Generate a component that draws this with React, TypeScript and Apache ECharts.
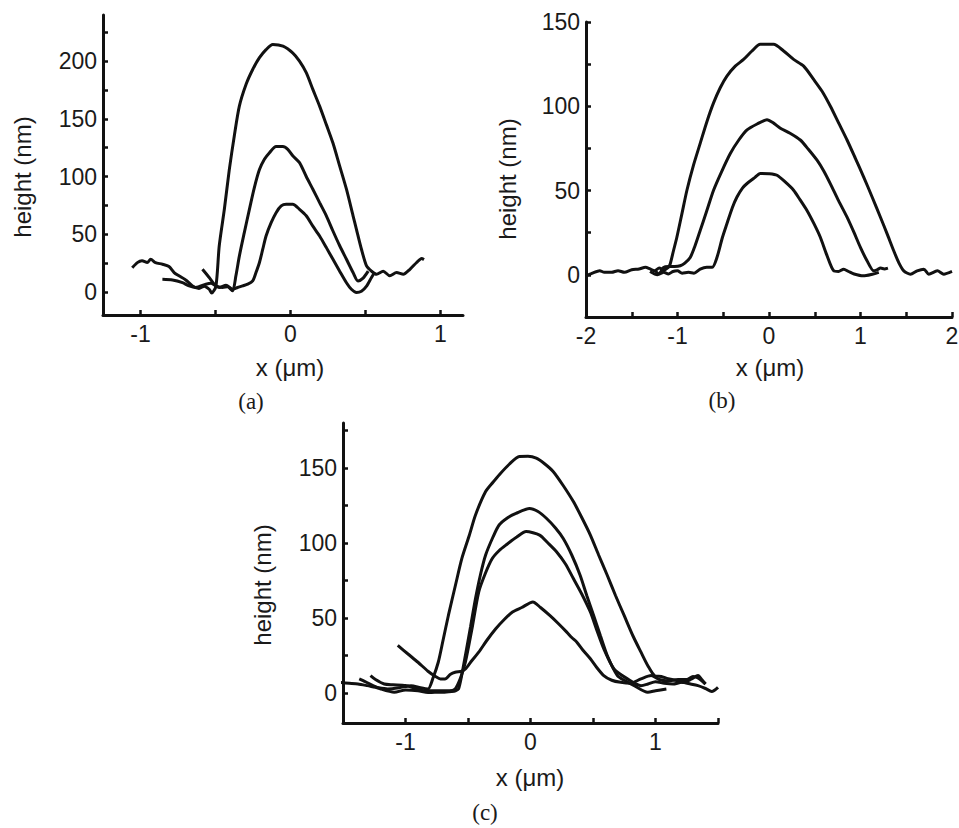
import React, { useEffect, useRef } from "react";
import * as echarts from "echarts";

// ---------- Panel (a) ----------
const a1X = [-1.055, -1.021, -0.99, -0.955, -0.932, -0.9, -0.854, -0.81, -0.776, -0.744, -0.698, -0.653, -0.61, -0.575, -0.542, -0.525, -0.497, -0.475, -0.441, -0.408, -0.375, -0.341, -0.296, -0.252, -0.207, -0.163, -0.118, -0.05, 0.016, 0.06, 0.105, 0.149, 0.194, 0.239, 0.283, 0.328, 0.373, 0.417, 0.44, 0.473, 0.507, 0.54, 0.573, 0.618, 0.662, 0.707, 0.752, 0.796, 0.841, 0.874, 0.89];
const a1Y = [21, 25.4, 27, 25.4, 28.3, 25.4, 24, 22, 16.8, 14, 10.4, 5.2, 3, 5, 2.3, -1, 5, 40, 71.6, 106, 135, 161, 180, 192.8, 203, 210, 214.5, 213, 207, 200, 190, 175.5, 161, 145, 129, 109, 89, 66, 54, 37, 22.5, 18, 15.3, 18, 14, 16.8, 15.3, 19.6, 25.5, 29, 28];
const a2X = [-0.854, -0.787, -0.72, -0.676, -0.632, -0.564, -0.53, -0.497, -0.453, -0.42, -0.386, -0.364, -0.341, -0.308, -0.274, -0.241, -0.207, -0.174, -0.14, -0.096, -0.051, -0.018, 0.015, 0.06, 0.105, 0.149, 0.194, 0.239, 0.283, 0.328, 0.373, 0.417, 0.45, 0.484, 0.518];
const a2Y = [11, 10.4, 8, 5.2, 3.8, 6.7, 7.5, 5.2, 3.8, 4.5, 1, 14, 31, 51.4, 71.6, 90.4, 106, 115, 120.7, 126, 126, 123.5, 118, 112, 100, 89, 77.4, 66, 52.8, 40, 28.3, 16.8, 9.5, 12, 18];
const a3X = [-0.587, -0.542, -0.508, -0.475, -0.43, -0.386, -0.353, -0.319, -0.285, -0.252, -0.23, -0.207, -0.185, -0.163, -0.129, -0.096, -0.062, -0.029, 0.015, 0.06, 0.105, 0.149, 0.194, 0.239, 0.283, 0.328, 0.373, 0.406, 0.44, 0.473, 0.507, 0.54, 0.562];
const a3Y = [19.6, 12.5, 6.7, 3.8, 5.8, 2.3, 3.8, 5.2, 6.7, 9.5, 16.8, 25.5, 37, 48.5, 60, 68.7, 74.5, 76, 76, 71.6, 66, 57, 48.5, 38.4, 28.3, 18, 8, 2.3, -0.5, 0.5, 5, 12.5, 17];

// ---------- Panel (b) ----------
const b1X = [-2, -1.93, -1.85, -1.8, -1.72, -1.65, -1.58, -1.5, -1.42, -1.35, -1.3, -1.25, -1.2, -1.15, -1.1, -1.08, -1.044, -1.007, -0.952, -0.897, -0.825, -0.752, -0.678, -0.606, -0.533, -0.46, -0.369, -0.278, -0.186, -0.095, 0.05, 0.16, 0.269, 0.379, 0.488, 0.58, 0.671, 0.762, 0.853, 0.944, 1.035, 1.127, 1.218, 1.291, 1.363, 1.418, 1.473, 1.546, 1.619, 1.692, 1.746, 1.84, 1.91, 2.0];
const b1Y = [-0.5, 1, 2.5, 1.5, 1.5, 2.5, 1.5, 3, 3.5, 4.5, 3.5, 2.5, 4, 3, 4.5, 6.4, 14.3, 22.3, 36.2, 50.2, 65.1, 78, 91, 102, 111, 117.9, 123.8, 127.8, 132.8, 136.8, 136.8, 132.8, 127.8, 123.8, 115.9, 108.9, 100, 90, 80, 69.1, 58, 46.2, 34.2, 24.3, 14.3, 7.3, 2.4, 0.4, 2.4, 3.4, 0.4, 2.4, 0.4, 2];
const b2X = [-1.3, -1.22, -1.18, -1.153, -1.1, -1.03, -0.97, -0.92, -0.861, -0.81, -0.752, -0.68, -0.606, -0.52, -0.423, -0.33, -0.24, -0.13, -0.022, 0.05, 0.124, 0.23, 0.342, 0.43, 0.525, 0.6, 0.671, 0.76, 0.853, 0.93, 0.999, 1.07, 1.144, 1.18, 1.22, 1.26, 1.3];
const b2Y = [2, 0, 2, 4.4, 5, 5, 5.4, 7, 10.3, 17, 26.3, 38, 50.2, 61, 72, 80, 86, 89.5, 92, 90, 87, 84, 80, 74.5, 68, 61.5, 54, 44, 34.2, 25, 16.3, 8.5, 2.4, 3, 4, 3.5, 4];
const b3X = [-1.25, -1.2, -1.15, -1.1, -1.05, -1.0, -0.95, -0.88, -0.82, -0.752, -0.68, -0.62, -0.569, -0.51, -0.46, -0.4, -0.35, -0.29, -0.24, -0.16, -0.095, 0, 0.087, 0.18, 0.269, 0.34, 0.415, 0.49, 0.561, 0.63, 0.707, 0.76, 0.816, 0.87, 0.93, 1.03, 1.13, 1.2];
const b3Y = [3, 0.5, 1.5, 0.5, 2, 2.4, 1, 1.5, 1, 3.4, 4.5, 4.5, 10.3, 22, 30.3, 40, 46.2, 51.5, 54.2, 57.5, 60.2, 60, 59.1, 55, 50.2, 44.5, 38.2, 30.5, 22.3, 12, 2.4, 2, 3.4, 2, 0.5, -0.6, 0.4, 1.5];

// ---------- Panel (c) ----------
const c1X = [-1.52, -1.45, -1.38, -1.306, -1.22, -1.144, -1.05, -0.955, -0.88, -0.82, -0.78, -0.738, -0.7, -0.657, -0.6, -0.549, -0.49, -0.44, -0.359, -0.3, -0.251, -0.17, -0.089, -0.02, 0.046, 0.11, 0.181, 0.26, 0.343, 0.41, 0.479, 0.545, 0.614, 0.68, 0.749, 0.82, 0.884, 0.94, 0.992, 1.046, 1.1, 1.16, 1.22, 1.29, 1.34, 1.37, 1.4];
const c1Y = [7, 6.5, 6, 4.9, 3.5, 2.7, 3.5, 4.9, 3.5, 2.7, 10, 20.5, 35, 51.7, 72, 89.7, 105, 118.7, 134.3, 140.5, 145.4, 152.5, 157.7, 157.8, 156.6, 153, 147.7, 138.5, 127.6, 117, 105.3, 92, 78.5, 65, 51.7, 38, 27.2, 18, 11.6, 11, 9.5, 8.5, 7, 9.4, 11.6, 9, 6];
const c2X = [-1.37, -1.32, -1.26, -1.198, -1.09, -1.0, -0.9, -0.82, -0.765, -0.7, -0.63, -0.6, -0.576, -0.55, -0.521, -0.48, -0.44, -0.4, -0.359, -0.3, -0.251, -0.18, -0.116, -0.008, 0.06, 0.127, 0.2, 0.262, 0.33, 0.397, 0.45, 0.505, 0.56, 0.614, 0.695, 0.76, 0.83, 0.938, 1.0, 1.087];
const c2Y = [9.4, 7.5, 5, 2.7, 0.5, 2, 1.5, 0.3, 0.5, 0.5, 1, 1.5, 2.7, 12, 25, 44, 63, 79, 92, 104, 112, 117, 119.8, 123, 121, 116.5, 110, 103, 92, 78.5, 65, 51.7, 38, 25, 11.6, 8, 4.9, 0.5, 1.5, 2.7];
const c3X = [-1.28, -1.24, -1.17, -1.1, -1.0, -0.92, -0.846, -0.75, -0.65, -0.603, -0.56, -0.521, -0.47, -0.414, -0.36, -0.306, -0.25, -0.197, -0.11, -0.035, 0.073, 0.14, 0.208, 0.28, 0.343, 0.41, 0.479, 0.53, 0.586, 0.668, 0.776, 0.884, 0.94, 1.0, 1.07, 1.14, 1.21, 1.28, 1.34, 1.4, 1.45, 1.5];
const c3Y = [11.6, 9, 6, 5.5, 5, 3, 1.5, 1.5, 1.5, 2.7, 10, 20.5, 42, 67.4, 80, 89.7, 95, 98.6, 104, 107.6, 105.3, 100, 94.2, 86, 76.3, 66, 54, 42, 29.5, 16, 9.4, 4.9, 6, 7.5, 6.5, 6, 7.1, 6, 4.9, 3, 1, 3.8];
const c4X = [-1.062, -0.98, -0.9, -0.82, -0.76, -0.72, -0.684, -0.64, -0.603, -0.55, -0.521, -0.47, -0.414, -0.35, -0.278, -0.21, -0.144, -0.07, 0.019, 0.08, 0.154, 0.22, 0.29, 0.33, 0.371, 0.42, 0.479, 0.53, 0.586, 0.65, 0.722, 0.8, 0.884, 0.965, 1.03, 1.1, 1.18, 1.25, 1.3, 1.34, 1.4];
const c4Y = [31.7, 26, 20.5, 14.5, 11, 9.4, 9.4, 12.5, 13.8, 14.5, 16, 21.5, 27.2, 35, 42.8, 49, 54, 57, 60.7, 57, 51.7, 46.5, 40.6, 37, 33.9, 28.5, 22.8, 17, 11.6, 8.5, 7.1, 6.5, 9.4, 11.6, 9, 8, 9, 9, 11, 10, 6];

// ---------- Axes: ticks and labels ----------
const aXTicks = [-1, -0.5, 0, 0.5, 1];
const aXLabels = [-1, 0, 1];
const aYTicks = [0, 25, 50, 75, 100, 125, 150, 175, 200, 225];
const aYLabels = [0, 50, 100, 150, 200];
const bXTicks = [-2, -1.5, -1, -0.5, 0, 0.5, 1, 1.5, 2];
const bXLabels = [-2, -1, 0, 1, 2];
const bYTicks = [0, 25, 50, 75, 100, 125, 150];
const bYLabels = [0, 50, 100, 150];
const cXTicks = [-1, -0.5, 0, 0.5, 1, 1.5];
const cXLabels = [-1, 0, 1];
const cYTicks = [0, 25, 50, 75, 100, 125, 150, 175];
const cYLabels = [0, 50, 100, 150];

const INK = "#111111";
const SANS = "'Liberation Sans', Arial, Helvetica, sans-serif";
const SERIF = "'Liberation Serif', 'Times New Roman', serif";

const zip = (xs: number[], ys: number[]) => xs.map((x, i) => [x, ys[i]]);

function axis(gridIndex: number, min: number, max: number, ticks: number[], labels: number[], isX: boolean) {
  return {
    type: "value",
    gridIndex,
    min,
    max,
    position: isX ? "bottom" : "left",
    axisLine: { show: true, onZero: false, lineStyle: { color: INK, width: 3 } },
    axisTick: { show: true, inside: true, length: 5, customValues: ticks, lineStyle: { color: INK, width: 2.5 } },
    axisLabel: {
      show: true,
      customValues: labels,
      color: "#1a1a1a",
      fontFamily: SANS,
      fontSize: 23,
      margin: isX ? 7 : 6,
    },
    splitLine: { show: false },
  };
}

function line(xi: number, xs: number[], ys: number[]) {
  return {
    type: "line",
    xAxisIndex: xi,
    yAxisIndex: xi,
    data: zip(xs, ys),
    showSymbol: false,
    symbol: "none",
    smooth: 0.25,
    lineStyle: { color: INK, width: 3 },
  };
}

function title(text: string, x: number, y: number, rot: number, font: string, size: number) {
  return {
    type: "text",
    x,
    y,
    rotation: rot,
    style: {
      text,
      fill: "#1a1a1a",
      font: `${size}px ${font}`,
      align: "center",
      verticalAlign: "middle",
    },
  };
}

export default function App() {
  const ref = useRef<HTMLDivElement>(null);
  useEffect(() => {
    if (!ref.current) return;
    const chart = echarts.init(ref.current, null, { renderer: "svg" });
    const option: any = {
      animation: false,
      backgroundColor: "#ffffff",
      grid: [
        { left: 103, top: 15, width: 360, height: 300, containLabel: false, outerBoundsMode: "none" },
        { left: 586, top: 22, width: 366, height: 295, containLabel: false, outerBoundsMode: "none" },
        { left: 343, top: 423, width: 375, height: 300, containLabel: false, outerBoundsMode: "none" },
      ],
      xAxis: [
        axis(0, -1.25, 1.15, aXTicks, aXLabels, true),
        axis(1, -2, 2, bXTicks, bXLabels, true),
        axis(2, -1.5, 1.5, cXTicks, cXLabels, true),
      ],
      yAxis: [
        axis(0, -20, 240, aYTicks, aYLabels, false),
        axis(1, -25, 150, bYTicks, bYLabels, false),
        axis(2, -20, 180, cYTicks, cYLabels, false),
      ],
      series: [
        line(0, a1X, a1Y),
        line(0, a2X, a2Y),
        line(0, a3X, a3Y),
        line(1, b1X, b1Y),
        line(1, b2X, b2Y),
        line(1, b3X, b3Y),
        line(2, c1X, c1Y),
        line(2, c2X, c2Y),
        line(2, c3X, c3Y),
        line(2, c4X, c4Y),
      ],
      graphic: [
        title("height (nm)", 22.5, 177, Math.PI / 2, SANS, 24),
        title("x (\u03bcm)", 290, 367, 0, SANS, 24),
        title("height (nm)", 507, 179, Math.PI / 2, SANS, 24),
        title("x (\u03bcm)", 770, 367, 0, SANS, 24),
        title("height (nm)", 262, 585, Math.PI / 2, SANS, 24),
        title("x (\u03bcm)", 530, 777, 0, SANS, 24),
        title("(a)", 251, 401, 0, SERIF, 23),
        title("(b)", 722, 400, 0, SERIF, 23),
        title("(c)", 485, 812, 0, SERIF, 23),
      ],
    };
    chart.setOption(option);
    return () => chart.dispose();
  }, []);
  return (
    <div
      ref={ref}
      style={{ position: "absolute", left: 0, top: 0, width: 959, height: 828, background: "#fff" }}
    />
  );
}
